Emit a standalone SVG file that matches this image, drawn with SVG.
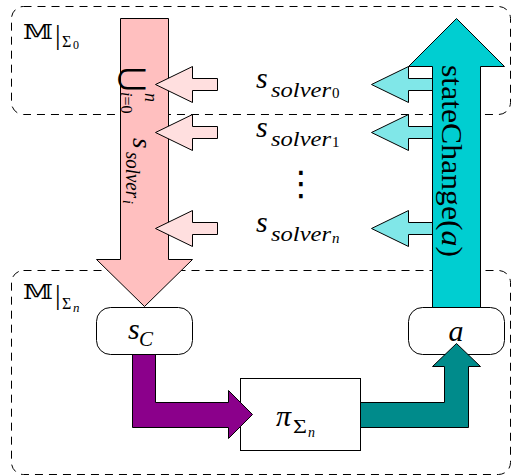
<svg xmlns="http://www.w3.org/2000/svg" width="516" height="476" viewBox="0 0 516 476">
  <style>
    .frame { fill: none; stroke: #000; stroke-width: 1; stroke-dasharray: 8 6; }
    .node { fill: #fff; stroke: #000; stroke-width: 1; }
    .arrow { stroke: #000; stroke-width: 1; stroke-linejoin: miter; }
    .big-pink { fill: #ffbfbf; }
    .small-pink { fill: #ffdfdf; }
    .big-cyan { fill: #00ced1; }
    .small-cyan { fill: #80e7e8; }
    .purple { fill: #8b008b; }
    .teal { fill: #008b8b; }
    .rm { font-family: "Liberation Serif", "DejaVu Serif", serif; fill: #000; }
    .it { font-family: "Liberation Serif", "DejaVu Serif", serif; font-style: italic; fill: #000; }
    .bb { font-family: "DejaVu Serif", "DejaVu Sans", serif; fill: #000; }
    .sym { font-family: "DejaVu Sans", sans-serif; fill: #000; }
  </style>
  <defs>
    <!-- small block arrow pointing left, centred on its own y = 0 -->
    <polygon id="small-arrow" points="0,0 37,-18 37,-6 62,-6 62,6 37,6 37,18"/>
  </defs>

  <!-- dashed model frames -->
  <g id="frames" transform="translate(0.5 0.5)">
    <rect id="frame-sigma0" class="frame" x="11" y="6" width="499" height="108" rx="12"/>
    <rect id="frame-sigman" class="frame" x="11" y="270" width="499" height="204" rx="12"/>
  </g>

  <!-- nodes -->
  <g id="node-sC">
    <rect class="node" x="96.5" y="307.5" width="96" height="47" rx="14"/>
    <text class="it" x="128" y="339" font-size="30">s</text>
    <text class="it" x="139" y="346" font-size="21">C</text>
  </g>
  <g id="node-a">
    <rect class="node" x="408.5" y="307.5" width="96" height="47" rx="14"/>
    <text class="it" x="456" y="341" font-size="30" text-anchor="middle">a</text>
  </g>
  <g id="node-pi">
    <rect class="node" x="240.5" y="378.5" width="120" height="72"/>
    <text class="it" x="276" y="426" font-size="30">π</text>
    <text class="rm" x="293" y="433" font-size="18" textLength="14" lengthAdjust="spacingAndGlyphs">Σ</text>
    <text class="it" x="308" y="437" font-size="14">n</text>
  </g>

  <!-- connectors -->
  <g id="connectors" transform="translate(0.5 0.5)">
    <use href="#small-arrow" class="arrow small-cyan" x="371" y="84"/>
    <use href="#small-arrow" class="arrow small-cyan" x="371" y="132"/>
    <use href="#small-arrow" class="arrow small-cyan" x="371" y="228"/>
    <polygon class="arrow big-cyan" points="432,307 432,66 408,66 456,18 504,66 480,66 480,307"/>
    <polygon class="arrow big-pink" points="120,18 168,18 168,259 192,259 144,306 96,259 120,259"/>
    <use href="#small-arrow" class="arrow small-pink" x="155" y="84"/>
    <use href="#small-arrow" class="arrow small-pink" x="155" y="132"/>
    <use href="#small-arrow" class="arrow small-pink" x="155" y="228"/>
    <polygon class="arrow purple" points="132,354 155,354 155,402 228,402 228,390 252,414 228,438 228,427 132,427"/>
    <polygon class="arrow teal" points="360,402 444,402 444,366 432,366 456,343 480,366 468,366 468,427 360,427"/>
  </g>

  <!-- frame labels -->
  <g id="label-sigma0">
    <text class="bb" x="23" y="39" font-size="21" textLength="30" lengthAdjust="spacingAndGlyphs">𝕄</text>
    <text class="rm" x="55" y="44" font-size="28">|</text>
    <text class="rm" x="62" y="47" font-size="16">Σ</text>
    <text class="rm" x="73" y="49" font-size="12">0</text>
  </g>
  <g id="label-sigman">
    <text class="bb" x="23" y="299" font-size="21" textLength="30" lengthAdjust="spacingAndGlyphs">𝕄</text>
    <text class="rm" x="55" y="304" font-size="28">|</text>
    <text class="rm" x="62" y="309" font-size="16">Σ</text>
    <text class="it" x="73" y="312" font-size="13">n</text>
  </g>

  <!-- solver state labels -->
  <g id="label-solver0">
    <text class="it" x="256" y="88" font-size="30">s</text>
    <text class="it" x="271" y="97" font-size="22" textLength="60" lengthAdjust="spacingAndGlyphs">solver</text>
    <text class="rm" x="332" y="98" font-size="15">0</text>
  </g>
  <g id="label-solver1">
    <text class="it" x="256" y="137" font-size="30">s</text>
    <text class="it" x="271" y="146" font-size="22" textLength="60" lengthAdjust="spacingAndGlyphs">solver</text>
    <text class="rm" x="332" y="147" font-size="15">1</text>
  </g>
  <g id="label-vdots">
    <text class="sym" x="301" y="195" font-size="34" text-anchor="middle">⋮</text>
  </g>
  <g id="label-solvern">
    <text class="it" x="256" y="232" font-size="30">s</text>
    <text class="it" x="271" y="241" font-size="22" textLength="60" lengthAdjust="spacingAndGlyphs">solver</text>
    <text class="it" x="332" y="243" font-size="15">n</text>
  </g>

  <!-- rotated arrow labels (x = screen y, y = minus screen x) -->
  <g id="label-union" transform="rotate(90)">
    <text class="sym" x="67" y="-124" font-size="30">⋃</text>
    <text class="it" x="93" y="-145" font-size="18">n</text>
    <text class="it" x="92" y="-121" font-size="16">i<tspan class="rm" font-style="normal">=0</tspan></text>
    <text class="it" x="138" y="-133" font-size="27">s</text>
    <text class="it" x="152" y="-126" font-size="20" textLength="46" lengthAdjust="spacingAndGlyphs">solver</text>
    <text class="it" x="200" y="-123" font-size="14">i</text>
  </g>
  <g id="label-statechange" transform="rotate(90)">
    <text class="rm" x="65" y="-442" font-size="30" textLength="192" lengthAdjust="spacingAndGlyphs">stateChange(<tspan font-style="italic">a</tspan>)</text>
  </g>
</svg>
